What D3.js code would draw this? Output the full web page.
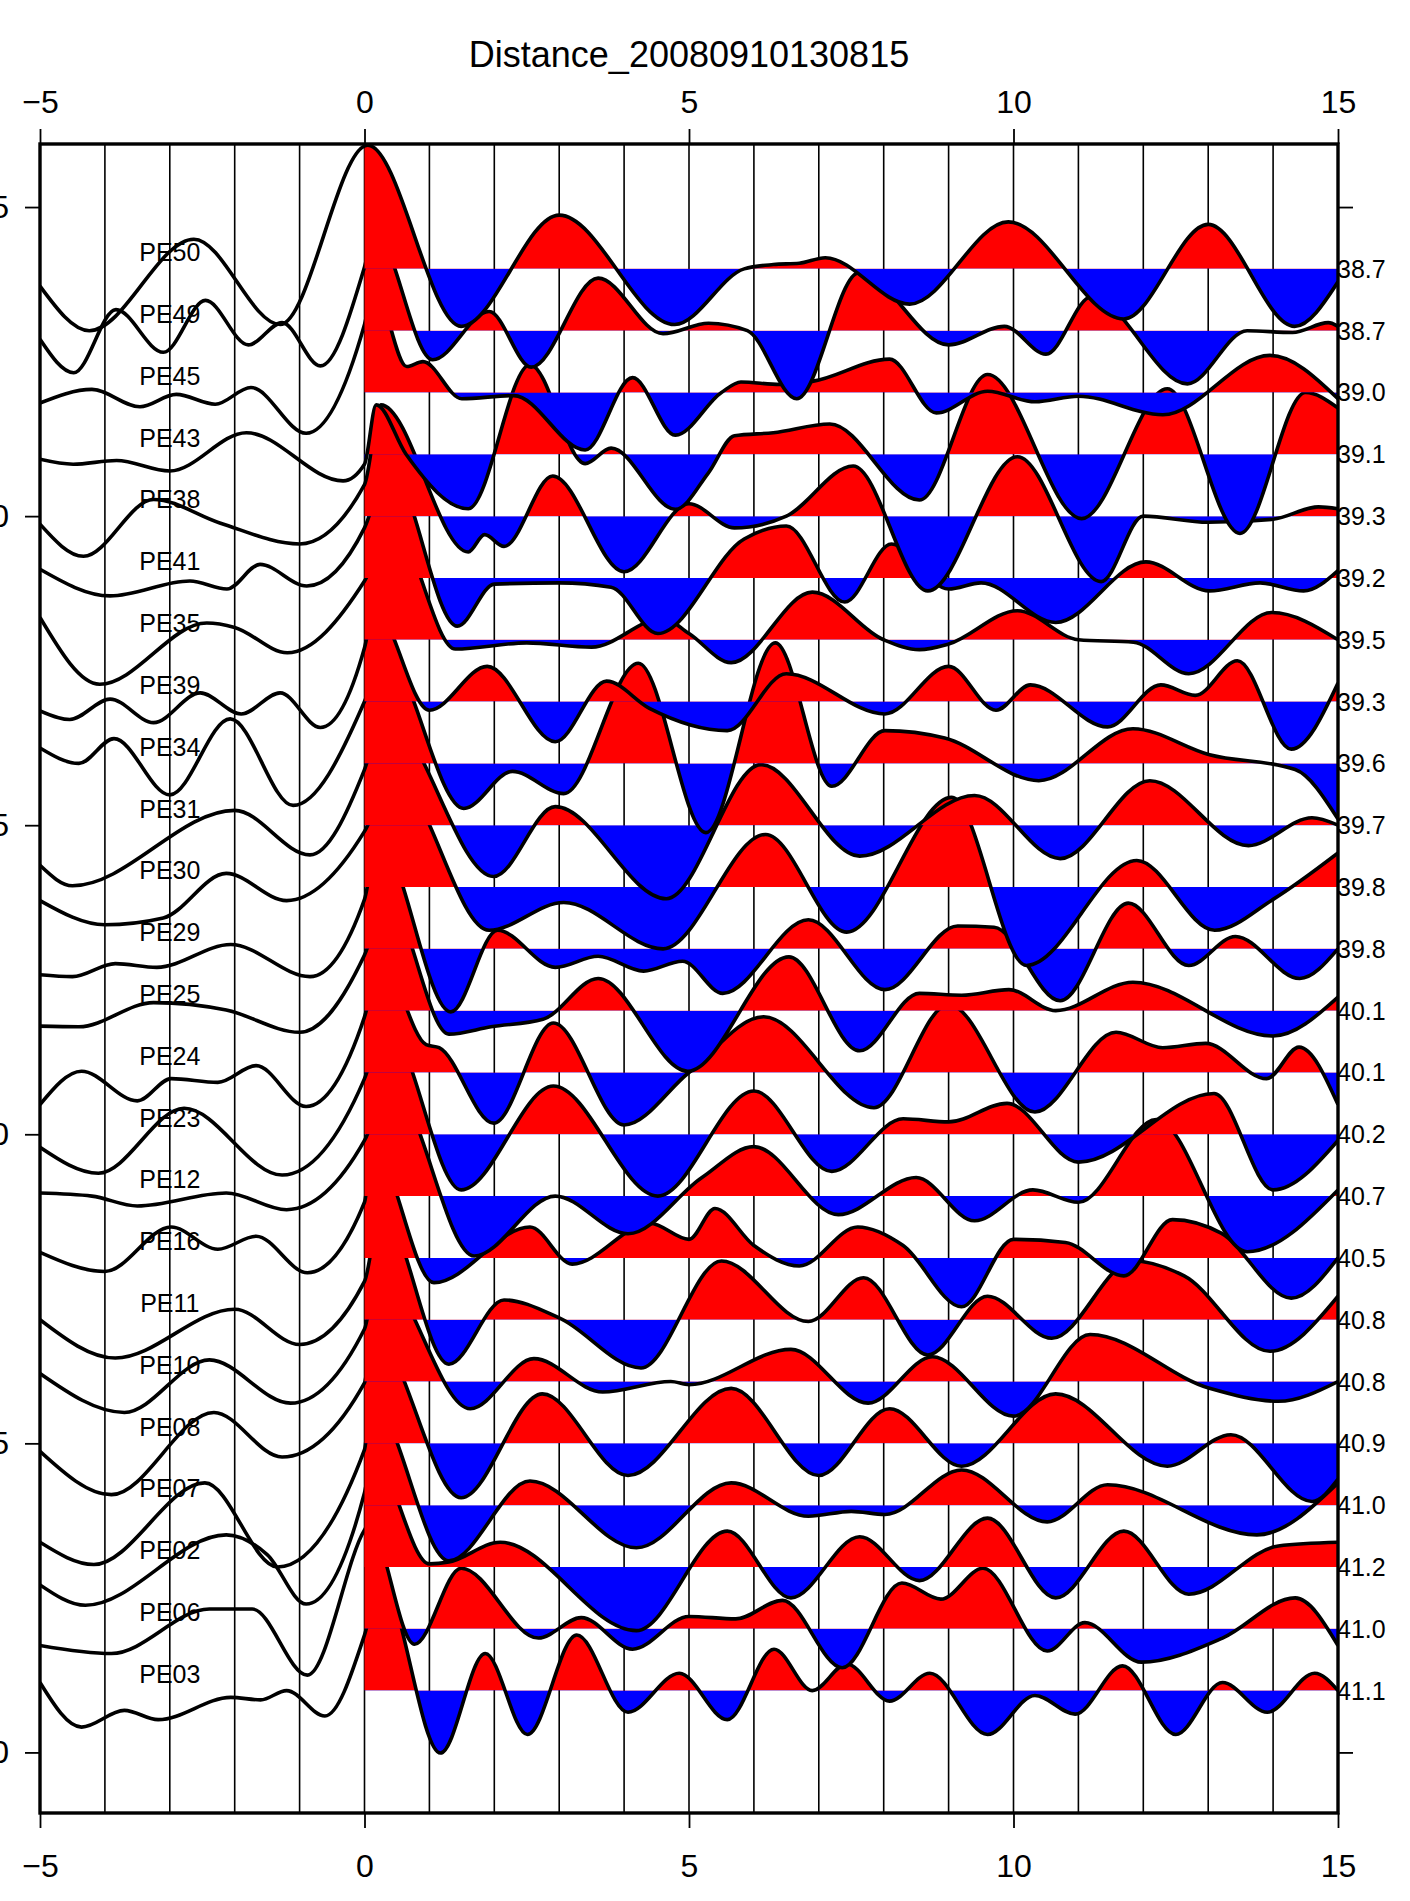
<!DOCTYPE html>
<html>
<head>
<meta charset="utf-8">
<script src="https://cdn.jsdelivr.net/npm/d3@7"></script>
<style>
  body { margin: 0; background: #fff; }
  svg { display: block; font-family: "Liberation Sans", Arial, sans-serif; }
</style>
</head>
<body>
<svg id="chart" width="1410" height="1901"></svg>
<script>
// station names, top to bottom, and their epicentral distances
var stations = ['PE50','PE49','PE45','PE43','PE38','PE41','PE35','PE39','PE34','PE31','PE30','PE29',
                'PE25','PE24','PE23','PE12','PE16','PE11','PE10','PE08','PE07','PE02','PE06','PE03'];
var distances = [38.7,38.7,39.0,39.1,39.3,39.2,39.5,39.3,39.6,39.7,39.8,39.8,
                 40.1,40.1,40.2,40.7,40.5,40.8,40.8,40.9,41.0,41.2,41.0,41.1];
var xTicks = [-5, 0, 5, 10, 15];
var yTicks = [0, 5, 10, 15, 20, 25];
var gridTimes = [-4,-3,-2,-1,0,1,2,3,4,5,6,7,8,9,10,11,12,13,14];
var title = 'Distance_20080910130815';

// receiver function traces: [time (s), amplitude (trace spacing units)]
var PE50 = [[-5,-0.28],[-4.24,-1.0],[-2.63,0.48],[-1.3,-0.9],[0.05,2.0],[1.49,-0.93],[3.0,0.87],[4.78,-0.9],[5.85,0.0],[6.3,0.07],[6.7,0.09],[7.1,0.18],[8.4,-0.57],[9.92,0.76],[11.7,-0.81],[13.0,0.72],[14.33,-0.93],[15,-0.21]];
var PE49 = [[-5,-0.14],[-4.48,-0.68],[-3.83,0.34],[-3.1,-0.35],[-2.45,0.49],[-1.79,-0.23],[-1.27,0.13],[-0.68,-0.57],[0,1.03],[0.15,1.6],[1.05,-0.47],[1.92,0.31],[2.57,-0.59],[3.6,0.85],[4.6,-0.05],[5.3,0.12],[5.9,0.0],[6.66,-1.1],[7.62,0.94],[9.0,-0.23],[9.86,0.07],[10.5,-0.38],[11.2,0.55],[12.68,-0.86],[13.6,0.0],[14.3,-0.03],[14.85,0.13],[15,0.07]];
var PE45 = [[-5,-0.17],[-4.2,0.05],[-3.46,-0.23],[-2.9,-0.03],[-2.3,-0.19],[-1.75,0.08],[-0.9,-0.66],[0,1.1],[0.15,1.7],[0.65,0.42],[0.9,0.5],[1.5,-0.1],[2.3,-0.05],[3.4,-0.93],[4.13,0.24],[4.79,-0.69],[5.5,0.0],[5.8,0.17],[6.4,0.13],[6.9,0.18],[8.09,0.54],[8.81,-0.33],[9.6,0.02],[10.33,-0.15],[11.0,-0.06],[12.3,-0.36],[13.95,0.6],[15,-0.1]];
var PE43 = [[-5,-0.08],[-4.49,-0.16],[-3.82,-0.1],[-3.0,-0.27],[-1.82,0.35],[-0.33,-0.43],[0,-0.16],[0.18,0.8],[0.64,0.0],[1.6,-0.88],[2.55,1.45],[3.4,-0.15],[3.8,0.1],[4.79,-0.89],[5.3,-0.3],[5.7,0.3],[6.3,0.35],[7.17,0.49],[8.55,-0.74],[9.6,1.29],[11.05,-1.04],[12.37,1.06],[13.49,-1.28],[14.5,1.0],[15,0.75]];
var PE38 = [[-5,-0.13],[-4.33,-0.65],[-3.25,0.27],[-2.23,-0.11],[-1.0,-0.45],[0,0.51],[0.25,1.8],[1.6,-0.58],[1.85,-0.3],[2.15,-0.49],[2.9,0.65],[4.0,-0.9],[5.0,0.2],[5.7,-0.19],[6.5,0.0],[7.53,0.81],[8.68,-1.21],[10.06,0.96],[11.35,-1.06],[12.0,0.0],[13.0,-0.1],[14.0,-0.05],[14.7,0.15],[15,0.12]];
var PE41 = [[-5,0.14],[-3.92,-0.29],[-2.69,-0.05],[-2.12,-0.18],[-1.61,0.22],[-0.89,-0.13],[0,0.81],[0.38,1.8],[1.43,-0.78],[2.0,-0.1],[3.0,-0.08],[3.8,-0.15],[4.52,-0.9],[5.85,0.63],[6.5,0.84],[7.4,-0.39],[8.12,0.55],[9.0,-0.18],[9.5,-0.08],[10.65,-0.72],[12.04,0.26],[13.02,-0.21],[13.8,-0.08],[14.47,-0.21],[15,0.12]];
var PE35 = [[-5,0.36],[-4.08,-0.72],[-2.43,0.27],[-2.0,0.2],[-1.19,-0.21],[0,0.95],[0.45,1.8],[1.4,-0.15],[2.5,-0.05],[3.5,-0.12],[4.6,0.35],[5.0,0.1],[5.65,-0.37],[6.9,0.77],[8.0,0.0],[8.55,-0.16],[9.0,-0.07],[10.06,0.47],[11.0,0.0],[11.85,-0.04],[12.7,-0.55],[13.98,0.44],[15,0.0]];
var PE39 = [[-5,-0.15],[-4.54,-0.29],[-3.92,0.04],[-3.25,-0.34],[-2.53,0.14],[-1.9,-0.2],[-1.3,0.14],[-0.68,-0.42],[0,0.87],[0.15,1.5],[1.0,-0.14],[1.89,0.57],[2.94,-0.65],[3.73,0.33],[4.39,-0.11],[5.59,-0.47],[6.5,0.45],[8.02,-0.2],[9.0,0.57],[9.73,-0.14],[10.26,0.27],[11.45,-0.41],[12.27,0.27],[12.8,0.1],[13.45,0.66],[14.28,-0.77],[15,0.3]];
var PE34 = [[-5,0.25],[-4.4,0.0],[-3.86,0.4],[-3.0,-0.51],[-2.07,0.72],[-1.1,-0.68],[0,1.0],[0.3,1.8],[1.53,-0.73],[2.28,-0.13],[3.07,-0.49],[4.22,1.62],[5.26,-1.12],[6.33,1.95],[7.2,-0.37],[8.02,0.53],[8.94,0.41],[10.39,-0.28],[11.84,0.56],[13.02,0.14],[14.34,-0.1],[15,-0.9]];
var PE31 = [[-5,-0.65],[-4.5,-0.98],[-2.0,0.24],[-0.84,-0.48],[0,0.9],[0.3,1.8],[1.99,-0.83],[2.94,0.3],[4.65,-1.19],[6.11,0.98],[7.63,-0.5],[9.4,0.48],[10.72,-0.54],[12.1,0.72],[13.62,-0.33],[14.6,0.12],[15,0.0]];
var PE30 = [[-5,-0.22],[-4.0,-0.61],[-3.1,-0.5],[-2.13,0.22],[-1.2,-0.22],[0,0.9],[0.45,1.8],[1.92,-0.7],[3.07,-0.25],[4.6,-1.0],[6.18,0.85],[7.43,-0.73],[9.05,1.45],[10.2,-1.27],[11.9,0.43],[13.1,-0.7],[14.0,-0.2],[15,0.55]];
var PE29 = [[-5,-0.42],[-4.5,-0.45],[-3.84,-0.24],[-3.2,-0.3],[-2.06,0.07],[-0.84,-0.45],[0,0.8],[0.2,1.8],[1.33,-1.02],[2.05,0.3],[2.94,-0.3],[3.6,-0.12],[4.3,-0.36],[4.9,-0.2],[5.52,-0.72],[6.84,0.47],[8.02,-0.66],[9.14,0.37],[9.7,0.35],[10.72,-0.84],[11.77,0.74],[12.7,-0.27],[13.42,0.2],[14.41,-0.48],[15,0.0]];
var PE25 = [[-5,-0.25],[-4.4,-0.26],[-3.25,0.13],[-2.13,0.01],[-1.0,-0.35],[0,0.9],[0.35,1.8],[1.3,-0.38],[1.95,-0.26],[2.75,-0.14],[3.6,0.52],[4.98,-0.98],[6.54,0.87],[7.63,-0.65],[8.55,0.28],[9.2,0.25],[9.93,0.34],[10.65,0.0],[11.84,0.46],[14.0,-0.41],[15,0.22]];
var PE24 = [[-5,-0.52],[-4.36,0.02],[-3.5,-0.46],[-2.98,-0.1],[-2.26,-0.16],[-1.67,0.11],[-0.9,-0.55],[0,0.9],[0.25,1.8],[0.95,0.45],[1.15,0.4],[1.99,-0.82],[2.91,0.8],[4.0,-0.85],[5.0,0.0],[6.15,0.9],[7.85,-0.57],[9.0,1.1],[10.33,-0.64],[11.58,0.65],[12.3,0.4],[12.96,0.47],[13.9,-0.1],[14.4,0.41],[15,-0.52]];
var PE23 = [[-5,-0.21],[-4.1,-0.63],[-2.78,0.42],[-1.27,-0.66],[0,0.9],[0.32,1.8],[1.49,-0.9],[2.91,0.78],[4.52,-1.0],[6.0,0.7],[7.2,-0.6],[8.3,0.25],[9.0,0.2],[9.9,0.5],[11.0,-0.45],[13.09,0.66],[14.0,-0.9],[15,-0.1]];
var PE12 = [[-5,0.05],[-4.2,0.0],[-3.5,-0.16],[-2.13,0.05],[-1.2,-0.22],[0,0.9],[0.4,1.8],[1.69,-0.97],[2.94,0.0],[4.06,-0.61],[5.2,0.3],[6.0,0.8],[7.3,-0.3],[8.5,0.3],[9.4,-0.4],[10.3,0.1],[11.0,-0.1],[12.2,1.24],[13.6,-0.9],[15,0.1]];
var PE16 = [[-5,0.09],[-4.0,-0.22],[-2.98,0.5],[-2.26,0.14],[-1.67,0.35],[-0.88,-0.24],[0,0.9],[0.12,1.8],[1.07,-0.4],[2.55,0.5],[3.2,-0.1],[4.4,0.56],[5.0,0.3],[5.4,0.8],[6.0,0.2],[6.7,-0.13],[7.6,0.5],[8.3,0.2],[9.2,-0.79],[10.0,0.3],[10.8,0.25],[11.7,-0.29],[12.45,0.62],[13.2,0.4],[14.28,-0.65],[15,0.0]];
var PE11 = [[-5,0.0],[-3.84,-0.62],[-2.0,0.17],[-1.0,-0.4],[0,0.62],[0.25,1.8],[1.3,-0.72],[2.15,0.32],[3.0,0.03],[4.26,-0.78],[5.5,0.95],[6.84,-0.03],[7.69,0.68],[8.68,-0.57],[9.6,0.38],[10.59,-0.3],[11.84,0.95],[12.63,0.71],[13.95,-0.51],[15,0.38]];
var PE10 = [[-5,0.13],[-3.7,-0.5],[-2.39,0.35],[-1.14,-0.35],[0,0.85],[0.2,1.8],[1.63,-0.44],[2.61,0.37],[3.67,-0.17],[4.72,0.0],[5.0,-0.05],[6.57,0.52],[7.76,-0.35],[8.75,0.4],[10.0,-0.56],[11.18,0.76],[13.02,-0.11],[14.08,-0.32],[15,0.0]];
var PE08 = [[-5,-0.13],[-3.9,-0.83],[-2.32,0.5],[-1.27,-0.22],[0,0.98],[0.12,1.8],[1.49,-0.88],[2.74,0.8],[4.06,-0.52],[5.65,0.89],[7.0,-0.52],[8.09,0.56],[9.2,-0.37],[10.65,0.8],[12.37,-0.37],[13.35,0.14],[14.6,-0.94],[15,-0.58]];
var PE07 = [[-5,-0.6],[-4.17,-0.96],[-2.46,0.36],[-1.34,-1.0],[0,0.9],[0.1,1.7],[1.3,-0.9],[2.55,0.39],[4.19,-0.69],[5.65,0.36],[6.84,-0.18],[7.5,-0.1],[8.02,-0.15],[9.2,0.57],[10.52,-0.27],[11.45,0.33],[13.75,-0.48],[15,0.36]];
var PE02 = [[-5,-0.29],[-4.3,-0.62],[-2.13,0.52],[-1.5,0.2],[-0.9,-0.6],[0,1.2],[0.12,1.8],[1.0,0.05],[1.3,0.08],[2.09,0.4],[4.19,-1.03],[5.59,0.58],[6.57,-0.5],[7.63,0.49],[8.55,-0.22],[9.6,0.79],[10.65,-0.5],[11.7,0.58],[12.7,-0.44],[14.08,0.34],[15,0.4]];
var PE06 = [[-5,-0.27],[-3.9,-0.4],[-2.39,0.32],[-1.73,0.32],[-0.88,-0.75],[0,1.6],[0.06,1.7],[0.77,-0.25],[1.49,0.98],[2.68,-0.15],[3.34,0.18],[4.13,-0.33],[5.0,0.2],[5.72,0.16],[6.44,0.46],[7.36,-0.63],[8.28,0.74],[8.88,0.48],[9.53,0.98],[10.52,-0.36],[11.1,0.1],[11.97,-0.54],[13.22,-0.15],[14.34,0.5],[15,-0.27]];
var PE03 = [[-5,0.13],[-4.36,-0.59],[-3.7,-0.32],[-3.18,-0.47],[-2.06,-0.11],[-1.6,-0.15],[-1.2,0.0],[-0.61,-0.41],[0,0.9],[0.25,1.8],[1.17,-1.01],[1.86,0.6],[2.51,-0.71],[3.27,0.9],[4.06,-0.35],[4.85,0.28],[5.59,-0.47],[6.31,0.67],[6.9,0.0],[7.43,0.43],[8.09,-0.17],[8.71,0.28],[9.6,-0.71],[10.33,-0.08],[10.95,-0.38],[11.68,0.4],[12.5,-0.71],[13.22,0.13],[13.91,-0.35],[14.64,0.28],[15,0.0]];

var waves = [PE50,PE49,PE45,PE43,PE38,PE41,PE35,PE39,PE34,PE31,PE30,PE29,
             PE25,PE24,PE23,PE12,PE16,PE11,PE10,PE08,PE07,PE02,PE06,PE03];

var svg = d3.select('#chart');

var x = d3.scaleLinear().domain([-5, 15]).range([40, 1338]);
var y = d3.scaleLinear().domain([-0.98, 26.02]).range([1813, 144]);

var defs = svg.append('defs');
defs.append('clipPath').attr('id', 'plot-clip')
  .append('rect')
    .attr('x', x(-5)).attr('y', y(26.02))
    .attr('width', x(15) - x(-5)).attr('height', y(-0.98) - y(26.02));

// vertical grid
svg.append('g').attr('class', 'grid')
  .selectAll('line').data(gridTimes).join('line')
    .attr('x1', d => x(d)).attr('x2', d => x(d))
    .attr('y1', y(26.02)).attr('y2', y(-0.98))
    .attr('stroke', '#000').attr('stroke-width', 1.6);

var plot = svg.append('g').attr('clip-path', 'url(#plot-clip)');

// bottom trace first, so the upper traces lie on top
for (var i = waves.length - 1; i >= 0; i--) {
  renderTrace(waves[i], stations.length - i, i);
}

function renderTrace (wave, base, index) {
  var area = d3.area()
      .x(d => x(d[0]))
      .y0(y(base))
      .y1(d => y(base + d[1]))
      .curve(d3.curveMonotoneX);

  var line = d3.line()
      .x(d => x(d[0]))
      .y(d => y(base + d[1]))
      .curve(d3.curveMonotoneX);

  var upId = 'up-' + index, downId = 'down-' + index;

  defs.append('clipPath').attr('id', upId)
    .append('rect')
      .attr('x', x(0)).attr('y', y(26.02))
      .attr('width', x(15) - x(0)).attr('height', y(base) - y(26.02));

  defs.append('clipPath').attr('id', downId)
    .append('rect')
      .attr('x', x(0)).attr('y', y(base))
      .attr('width', x(15) - x(0)).attr('height', y(-0.98) - y(base));

  var g = plot.append('g').attr('class', 'trace');

  g.append('path')
      .attr('d', area(wave))
      .attr('fill', '#ff0000')
      .attr('clip-path', 'url(#' + upId + ')');

  g.append('path')
      .attr('d', area(wave))
      .attr('fill', '#0000ff')
      .attr('clip-path', 'url(#' + downId + ')');

  g.append('path')
      .attr('d', line(wave))
      .attr('fill', 'none')
      .attr('stroke', '#000')
      .attr('stroke-width', 3.6)
      .attr('stroke-linejoin', 'round');
}

// frame
svg.append('rect')
    .attr('x', x(-5)).attr('y', y(26.02))
    .attr('width', x(15) - x(-5)).attr('height', y(-0.98) - y(26.02))
    .attr('fill', 'none').attr('stroke', '#000').attr('stroke-width', 3.4);

function styleAxis (g) {
  g.select('.domain').remove();
  g.selectAll('.tick line').attr('stroke', '#000').attr('stroke-width', 1.8);
  g.selectAll('.tick text').attr('fill', '#000').attr('font-size', 32)
      .attr('font-family', '"Liberation Sans", Arial, sans-serif');
}

svg.append('g')
    .attr('transform', `translate(0, ${y(26.02)})`)
    .call(d3.axisTop(x).tickValues(xTicks).tickSize(15).tickPadding(16))
    .call(styleAxis);

svg.append('g')
    .attr('transform', `translate(0, ${y(-0.98)})`)
    .call(d3.axisBottom(x).tickValues(xTicks).tickSize(15).tickPadding(26))
    .call(styleAxis);

svg.append('g')
    .attr('transform', `translate(${x(-5)}, 0)`)
    .call(d3.axisLeft(y).tickValues(yTicks).tickSize(15).tickPadding(16))
    .call(styleAxis);

svg.append('g')
    .attr('transform', `translate(${x(15)}, 0)`)
    .call(d3.axisRight(y).tickValues([0, 25]).tickSize(15).tickFormat(''))
    .call(styleAxis);

// station names
svg.append('g').selectAll('text').data(stations).join('text')
    .attr('x', x(-3))
    .attr('y', (d, i) => y(stations.length - i + 0.27))
    .attr('text-anchor', 'middle')
    .attr('dominant-baseline', 'central')
    .attr('font-size', 25)
    .text(d => d);

// distances on the right
svg.append('g').selectAll('text').data(distances).join('text')
    .attr('x', x(15) - 1)
    .attr('y', (d, i) => y(stations.length - i))
    .attr('dominant-baseline', 'central')
    .attr('font-size', 25)
    .text(d => d.toFixed(1));

svg.append('text')
    .attr('x', x(5)).attr('y', 67)
    .attr('text-anchor', 'middle')
    .attr('font-size', 36)
    .text(title);
</script>
</body>
</html>
